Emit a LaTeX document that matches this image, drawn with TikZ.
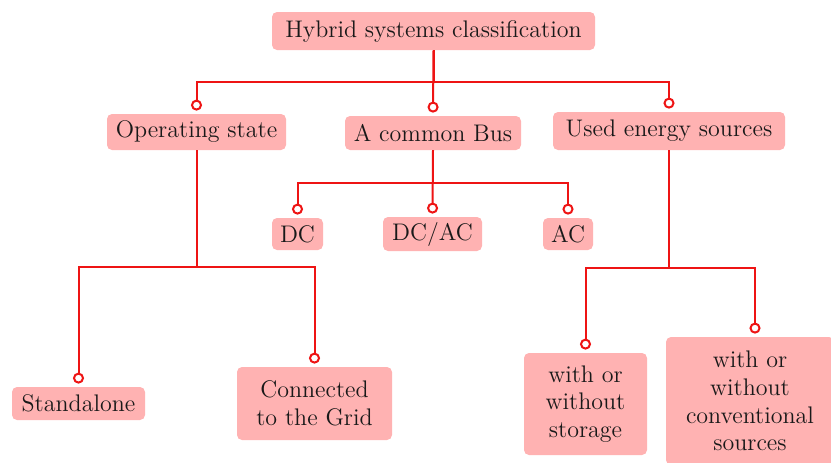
\documentclass[tikz,border=0pt]{standalone}
\usepackage{xcolor}
\usepackage{tikz}
\usetikzlibrary{arrows.meta,calc}

\definecolor{boxpink}{RGB}{255,178,178}
\definecolor{linkred}{RGB}{238,20,20}

\begin{document}
\begin{tikzpicture}[
  x=0.5pt,y=-0.5pt,
  font=\fontsize{12}{13.8}\selectfont,
  box/.style={fill=boxpink,rounded corners=2.5pt,align=center,inner sep=1pt,text=black!90},
  link/.style={draw=linkred,line width=1pt,shorten >=1.5pt,-{Circle[open,fill=white,length=5.5pt,width=5.5pt,line width=1pt]}},
]
\useasboundingbox (0,0) rectangle (831,462);

% top level
\node[box,minimum width=161.5pt,minimum height=19pt] (root) at (433.5,31) {Hybrid systems classification};
\coordinate (bartop) at (0,82);

\node[box,minimum width=89.5pt,minimum height=18pt] (opstate) at (196.5,132) {Operating state};
\node[box,minimum width=88pt,minimum height=17pt] (bus) at (433,133) {A common Bus};
\node[box,minimum width=116pt,minimum height=19pt] (sources) at (669,131) {Used energy sources};

% common bus branch
\coordinate (barbus) at (0,183);
\node[box,minimum width=25.5pt,minimum height=16pt] (dc) at (297.5,234) {DC};
\node[box,minimum width=49.5pt,minimum height=17pt] (dcac) at (432.5,234) {DC/AC};
\node[box,minimum width=25pt,minimum height=16pt] (ac) at (568,234) {AC};

% operating state branch
\coordinate (barop) at (0,267);
\node[box,minimum width=66.5pt,minimum height=16.5pt] (alone) at (78.5,403.5) {Standalone};
\node[box,minimum width=77.5pt,minimum height=36.5pt] (grid) at (314.5,403.5) {Connected\\to the Grid};

% energy sources branch
\coordinate (barsrc) at (0,268);
\node[box,minimum width=61.5pt,minimum height=51pt] (storage) at (585.5,404) {with or\\without\\storage};
\node[box,minimum width=84pt,minimum height=64pt] (conv) at (750,401) {with or\\without\\conventional\\sources};

% links
\draw[link] (root.south) -- (root.south |- bartop) -| (opstate.north);
\draw[link] (root.south) -- (bus.north);
\draw[link] (root.south) -- (root.south |- bartop) -| (sources.north);

\draw[link] (bus.south) -- (bus.south |- barbus) -| (dc.north);
\draw[link] (bus.south) -- (dcac.north);
\draw[link] (bus.south) -- (bus.south |- barbus) -| (ac.north);

\draw[link] (opstate.south) -- (opstate.south |- barop) -| (alone.north);
\draw[link] (opstate.south) -- (opstate.south |- barop) -| (grid.north);

\draw[link] (sources.south) -- (sources.south |- barsrc) -| (storage.north);
\draw[link] (sources.south) -- (sources.south |- barsrc) -| ([xshift=2.5pt]conv.north);
\end{tikzpicture}
\end{document}
